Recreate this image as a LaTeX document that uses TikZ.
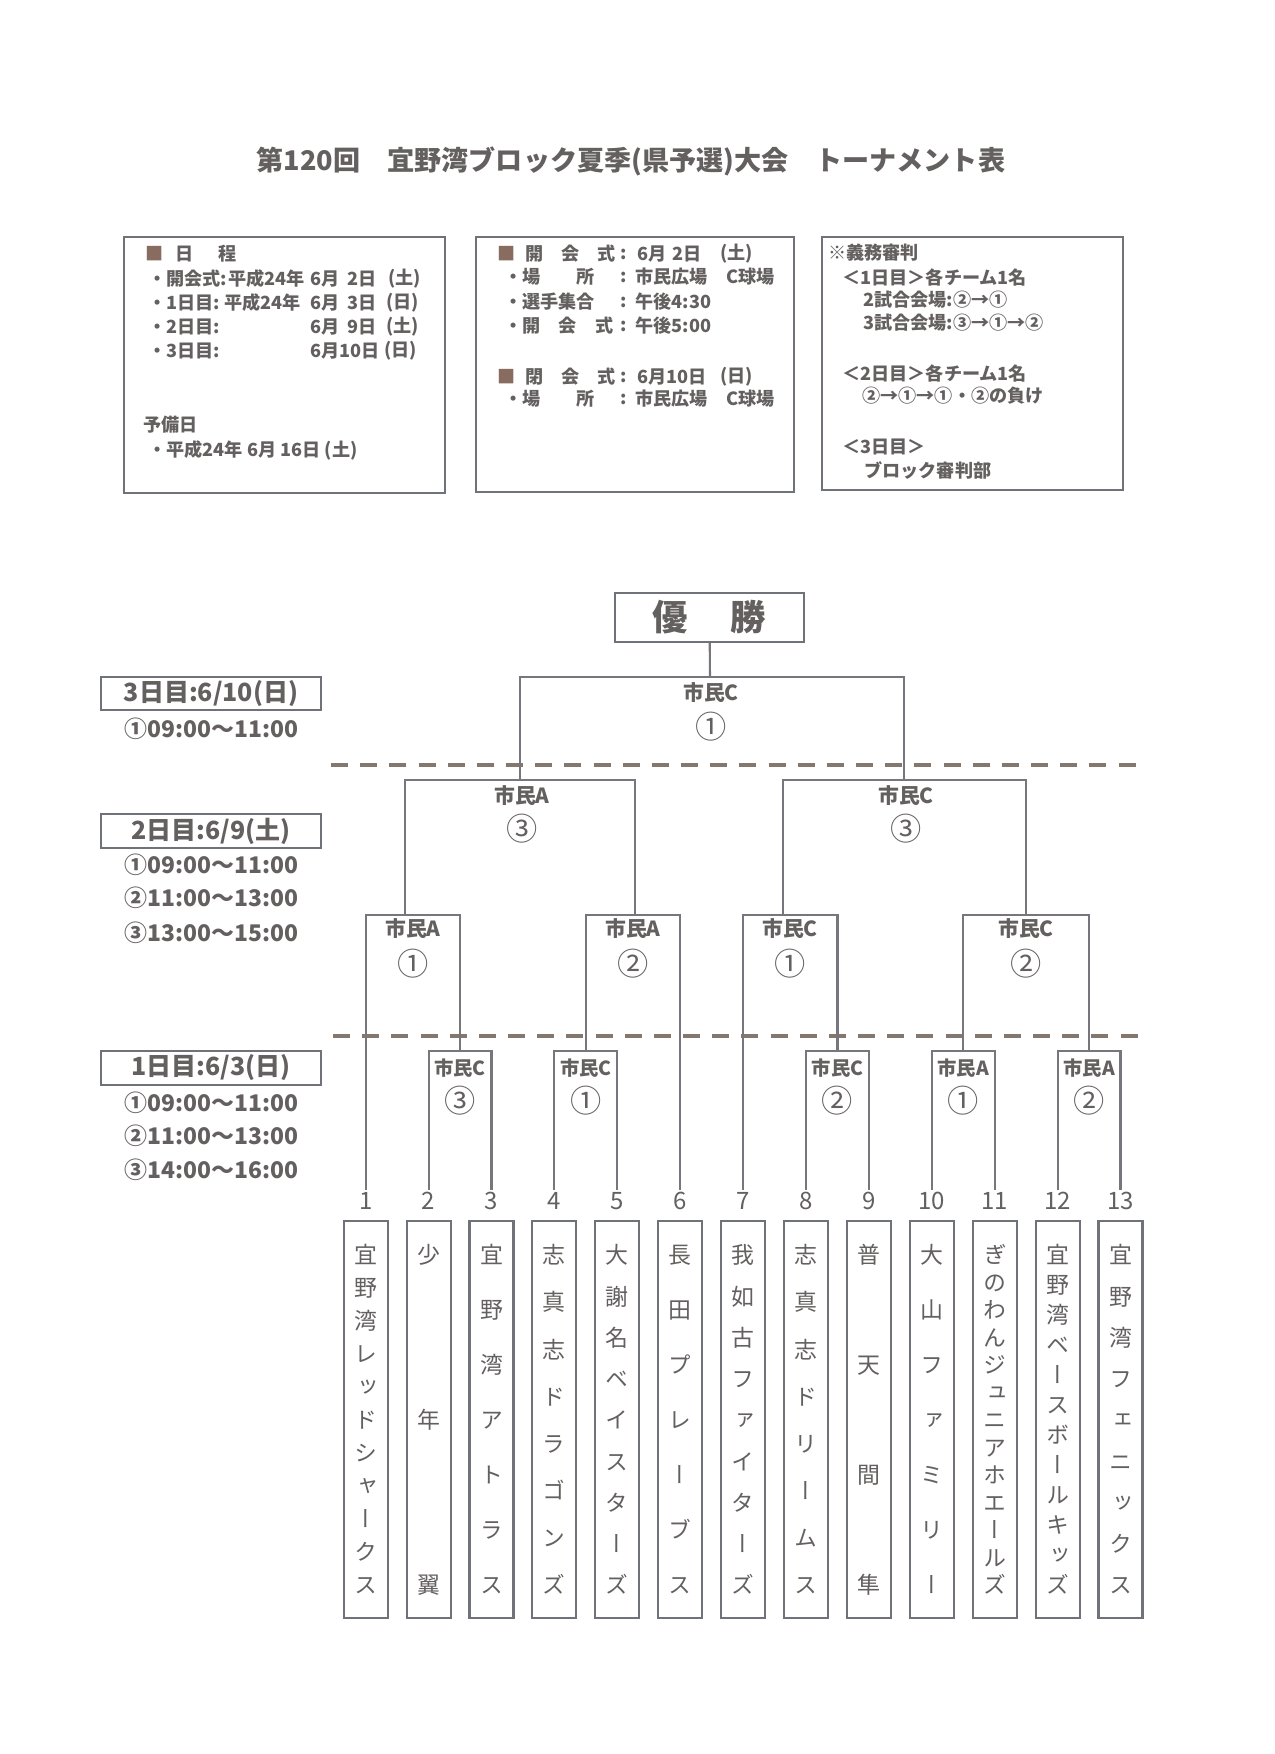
\documentclass[tikz,border=0pt]{standalone}
\usepackage{fontspec}
\setmainfont{Noto Sans CJK JP}
\newfontfamily\jpv[RawFeature=+vert]{Noto Sans CJK JP}
\definecolor{ink}{RGB}{100,96,96}
\definecolor{framegray}{RGB}{112,114,122}
\definecolor{linegray}{RGB}{118,118,124}
\definecolor{dashbrown}{RGB}{132,120,110}
\definecolor{sqbrown}{RGB}{135,108,95}

\tikzset{
  info/.style={anchor=west,inner sep=0pt,text=ink,font=\bfseries\fontsize{8.7}{8.7}\selectfont},
  frame/.style={draw=framegray,line width=1pt},
  bline/.style={draw=linegray,line width=1pt},
  sep/.style={draw=dashbrown,line width=2pt,dash pattern=on 8.2pt off 5.8pt},
  venue/.style={inner sep=0pt,text=ink,font=\bfseries\fontsize{10}{10}\selectfont},
  venuesm/.style={venue,font=\bfseries\fontsize{9.3}{9.3}\selectfont},
  gameno/.style={inner sep=0pt,text=ink,font=\fontsize{15}{15}\selectfont},
  num/.style={inner sep=1pt,text=ink,font=\fontsize{11.5}{11.5}\selectfont},
  teambox/.style={draw=framegray,line width=1pt,minimum width=21.1pt,minimum height=190.6pt,inner sep=0pt},
  teamchar/.style={inner sep=0pt,text height=9.7pt,text depth=1.3pt,text=ink,font=\jpv\fontsize{11}{11}\selectfont},
  daybox/.style={draw=framegray,line width=1pt,minimum width=105.6pt,minimum height=16.1pt,inner sep=0pt,text=ink,font=\bfseries\fontsize{12}{12}\selectfont},
  daytime/.style={anchor=west,inner sep=0pt,text=ink,font=\bfseries\fontsize{11}{11}\selectfont},
}

\begin{document}
\begin{tikzpicture}[x=0.48pt,y=-0.48pt]
  \useasboundingbox (0,0) rectangle (1275,1754);
  \fill[white] (0,0) rectangle (1275,1754);

  % title
  \node[text=ink,font=\bfseries\fontsize{13}{13}\selectfont] (title) at (631,161)
    {第120回　宜野湾ブロック夏季(県予選)大会　トーナメント表};

  % schedule box
  \draw[frame] (124,237) rectangle (445,493);
  \node[info,text=sqbrown] (schsq) at (145,254) {■};
  \node[info] (schhd1) at (175,254) {日};
  \node[info] (schhd2) at (218,254) {程};
  \node[info] (sch1a) at (148,279) {・開会式:};
  \node[info] (sch1b) at (228,279) {平成24年};
  \node[info] (sch1c) at (310,279) {6月};
  \node[info,anchor=east] (sch1d) at (377,279) {2日};
  \node[info] (sch1e) at (388,279) {(土)};
  \node[info] (sch2a) at (148,303) {・1日目:};
  \node[info] (sch2b) at (224,303) {平成24年};
  \node[info] (sch2c) at (310,303) {6月};
  \node[info,anchor=east] (sch2d) at (377,303) {3日};
  \node[info] (sch2e) at (386,303) {(日)};
  \node[info] (sch3a) at (148,327) {・2日目:};
  \node[info] (sch3c) at (310,327) {6月};
  \node[info,anchor=east] (sch3d) at (377,327) {9日};
  \node[info] (sch3e) at (386,327) {(土)};
  \node[info] (sch4a) at (148,351) {・3日目:};
  \node[info] (sch4c) at (310,351) {6月10日};
  \node[info] (sch4e) at (384,351) {(日)};
  \node[info] (spare0) at (143,425) {予備日};
  \node[info] (spare1) at (148,450) {・平成24年 6月 16日 (土)};

  % ceremony box
  \draw[frame] (476,237) rectangle (794,492);
  \node[info,text=sqbrown] (cer0) at (497,254) {■};
  \node[info] (cer1) at (525,254) {開　会　式};
  \node[info] (cer2) at (620,254) {:};
  \node[info] (cer3) at (637,254) {6月};
  \node[info,anchor=east] (cer4) at (702,254) {2日};
  \node[info] (cer5) at (720,254) {(土)};
  \node[info] (pl1a) at (504,277) {・場　　所};
  \node[info] (pl1b) at (620,277) {:};
  \node[info] (pl1c) at (635,277) {市民広場　C球場};
  \node[info] (mt1a) at (504,302) {・選手集合};
  \node[info] (mt1b) at (620,302) {:};
  \node[info] (mt1c) at (635,302) {午後4:30};
  \node[info] (op1a) at (504,326) {・開　会　式};
  \node[info] (op1b) at (620,326) {:};
  \node[info] (op1c) at (635,326) {午後5:00};
  \node[info,text=sqbrown] (clo0) at (497,377) {■};
  \node[info] (clo1) at (525,377) {閉　会　式};
  \node[info] (clo2) at (620,377) {:};
  \node[info] (clo3) at (637,377) {6月10日};
  \node[info] (clo5) at (720,377) {(日)};
  \node[info] (pl2a) at (504,399) {・場　　所};
  \node[info] (pl2b) at (620,399) {:};
  \node[info] (pl2c) at (635,399) {市民広場　C球場};

  % umpire duty box
  \draw[frame] (822,237) rectangle (1123,490);
  \foreach \x/\y/\t [count=\k] in {828/253/※義務審判, 842/277/＜1日目＞各チーム1名,
      863/300/2試合会場:②→①, 863/323/3試合会場:③→①→②,
      842/373/＜2日目＞各チーム1名, 862/396/②→①→①・②の負け,
      842/447/＜3日目＞, 864/471/ブロック審判部}
    \node[info] (duty\k) at (\x,\y) {\t};

  % day labels
  \node[daybox] (day3) at (211,693.5) {3日目:6/10(日)};
  \node[daytime] (day3a) at (124,729) {①09:00～11:00};
  \node[daybox] (day2) at (211,831) {2日目:6/9(土)};
  \node[daytime] (day2a) at (124,865) {①09:00～11:00};
  \node[daytime] (day2b) at (124,898) {②11:00～13:00};
  \node[daytime] (day2c) at (124,933) {③13:00～15:00};
  \node[daybox] (day1) at (211,1068) {1日目:6/3(日)};
  \node[daytime] (day1a) at (124,1103) {①09:00～11:00};
  \node[daytime] (day1b) at (124,1136) {②11:00～13:00};
  \node[daytime] (day1c) at (124,1170) {③14:00～16:00};

  % day separators
  \coordinate (d1a) at (331,765);
  \coordinate (d1b) at (1139,765);
  \coordinate (d2a) at (333,1036);
  \coordinate (d2b) at (1139,1036);
  \draw[sep] (d1a) -- (d1b);
  \draw[sep] (d2a) -- (d2b);

  % teams
  \foreach \i/\n/\nm in {1/11/{宜,野,湾,レ,ッ,ド,シ,ャ,ー,ク,ス}, 2/3/{少,年,翼},
      3/7/{宜,野,湾,ア,ト,ラ,ス}, 4/8/{志,真,志,ド,ラ,ゴ,ン,ズ},
      5/9/{大,謝,名,ベ,イ,ス,タ,ー,ズ}, 6/7/{長,田,プ,レ,ー,ブ,ス},
      7/9/{我,如,古,フ,ァ,イ,タ,ー,ズ}, 8/8/{志,真,志,ド,リ,ー,ム,ス},
      9/4/{普,天,間,隼}, 10/7/{大,山,フ,ァ,ミ,リ,ー},
      11/13/{ぎ,の,わ,ん,ジ,ュ,ニ,ア,ホ,エ,ー,ル,ズ},
      12/12/{宜,野,湾,ベ,ー,ス,ボ,ー,ル,キ,ッ,ズ},
      13/9/{宜,野,湾,フ,ェ,ニ,ッ,ク,ス}} {
    \pgfmathsetmacro\tx{365.7+62.9*(\i-1)}
    \node[num] (n\i) at (\tx,1201) {\i};
    \node[teambox] (b\i) at (\tx,1419.5) {};
    \foreach \c [count=\k] in \nm
      \node[teamchar] (c\i-\k) at (\tx,{1255+(\k-1)*330/(\n-1)}) {\c};
  }

  % bracket
  \coordinate (r1) at (460,1051);
  \coordinate (r2) at (586,1051);
  \coordinate (r3) at (837.5,1051);
  \coordinate (r4) at (963.3,1051);
  \coordinate (r5) at (1089.1,1051);
  \coordinate (q1) at (405,915);
  \coordinate (q2) at (635,915);
  \coordinate (q3) at (783,915);
  \coordinate (q4) at (1026,915);
  \coordinate (s1) at (520,780);
  \coordinate (s2) at (904,780);
  \coordinate (f) at (710,677);

  \draw[bline] (n2.north) |- (r1) -| (n3.north);
  \draw[bline] (n4.north) |- (r2) -| (n5.north);
  \draw[bline] (n8.north) |- (r3) -| (n9.north);
  \draw[bline] (n10.north) |- (r4) -| (n11.north);
  \draw[bline] (n12.north) |- (r5) -| (n13.north);
  \draw[bline] (n1.north) |- (q1) -| (r1);
  \draw[bline] (r2) |- (q2) -| (n6.north);
  \draw[bline] (n7.north) |- (q3) -| (r3);
  \draw[bline] (r4) |- (q4) -| (r5);
  \draw[bline] (q1) |- (s1) -| (q2);
  \draw[bline] (q3) |- (s2) -| (q4);
  \draw[bline] (s1) |- (f) -| (s2);

  \node[draw=framegray,line width=1pt,minimum width=90.7pt,minimum height=23.5pt,
    text=ink,font=\bfseries\fontsize{17}{17}\selectfont] (win) at (709.5,617.5) {優\hspace{1.2em}勝};
  \draw[bline] (win) -- (f);

  % match labels
  \node[venue] (fv) at (711,693) {市民C};
  \node[gameno] (fg) at (711,727) {①};
  \node[venue] (s1v) at (522,796) {市民A};
  \node[gameno] (s1g) at (522,829) {③};
  \node[venue] (s2v) at (906,796) {市民C};
  \node[gameno] (s2g) at (906,829) {③};
  \node[venue] (q1v) at (413,929) {市民A};
  \node[gameno] (q1g) at (413,964) {①};
  \node[venue] (q2v) at (633,929) {市民A};
  \node[gameno] (q2g) at (633,964) {②};
  \node[venue] (q3v) at (790,929) {市民C};
  \node[gameno] (q3g) at (790,964) {①};
  \node[venue] (q4v) at (1026,929) {市民C};
  \node[gameno] (q4g) at (1026,964) {②};
  \foreach \m/\v/\g in {r1/市民C/③, r2/市民C/①, r3/市民C/②, r4/市民A/①, r5/市民A/②} {
    \node[venuesm] (\m v) at ([yshift=-8.2pt]\m) {\v};
    \node[gameno] (\m g) at ([yshift=-24pt]\m) {\g};
  }
\end{tikzpicture}
\end{document}
